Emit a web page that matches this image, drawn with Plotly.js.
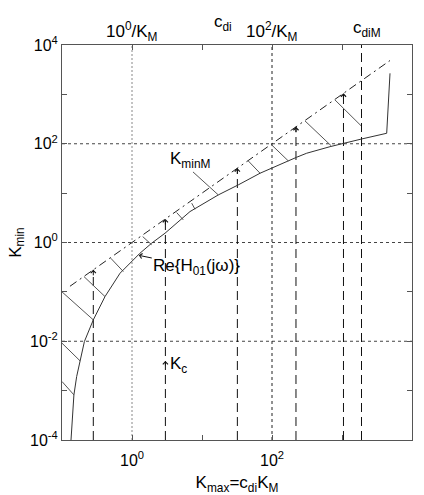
<!DOCTYPE html>
<html>
<head>
<meta charset="utf-8">
<script src="https://cdn.plot.ly/plotly-3.0.1.min.js"></script>
<style>
  html, body { margin: 0; padding: 0; background: #fff; }
  #chart { width: 424px; height: 495px; }
</style>
</head>
<body>
<div id="chart"></div>
<script>
// Re{H01(jw)} boundary curve
const reX = [0.1345, 0.148, 0.162, 0.181, 0.209, 0.28, 0.411, 0.675, 1.3, 1.91, 2.96, 6.74, 17.1, 33, 67.5, 225, 313, 675, 1045, 1910, 4350, 4850];
const reY = [1e-4, 8.2e-4, 1.93e-3, 4.2e-3, 9.9e-3, 0.0271, 0.0802, 0.239, 0.607, 0.968, 1.54, 4.23, 9.2, 14.7, 25.3, 53.3, 64.3, 87.3, 102, 125, 163, 2670];

// K_minM limit line (Kmin = Kmax)
const kminMX = [0.13, 4850];
const kminMY = [0.13, 4850];

// hatching between the two boundaries: start and end of each stroke
const hatchX0 = [0.1, 0.1, 0.1, 0.206, 0.497, 1.42, 4.35, 7.13, 7.43, 45.8, 99, 296, 794];
const hatchY0 = [0.1, 0.00914, 0.00153, 0.204, 0.481, 1.32, 4.03, 6.25, 26.9, 44.9, 94.6, 290, 771];
const hatchX1 = [0.28, 0.181, 0.148, 0.411, 0.752, 1.91, 5.4, 7.94, 17.1, 67.5, 171, 697, 1868];
const hatchY1 = [0.0271, 0.00401, 8.2e-4, 0.0804, 0.258, 0.9, 2.87, 4.72, 9.2, 25.3, 44.9, 91.6, 232];

// c_di values (vertical arrows up to K_minM) and the upper limit c_diM
const cdi = [0.28, 3, 32, 220, 1050];
const cdiM = 1900;
const kc = { x: 3, y: 0.004 };
const reLabelPoint = { x: 1.25, y: 0.55 };

const yMin = 1e-4, yMax = 1e4;
const decadesX = [0.1, 1, 10, 100, 1000, 10000];
const labelsX = ['', '10<sup>0</sup>', '', '10<sup>2</sup>', '', '10<sup>4</sup>'];
const decadesY = [1e-4, 1e-3, 1e-2, 1e-1, 1, 10, 100, 1000, 10000];
const labelsY = ['10<sup>-4</sup>', '', '10<sup>-2</sup>', '', '10<sup>0</sup>', '', '10<sup>2</sup>', '', '10<sup>4</sup>'];

const FONT = 'Liberation Sans, Arial, sans-serif';
const traces = [];

// reference lines at the labelled decades
[0.01, 1, 100].forEach(v => traces.push({
  x: [0.1, 10000], y: [v, v], mode: 'lines', hoverinfo: 'skip',
  line: { color: '#444', width: 1, dash: '3px,3px' }
}));
traces.push({ x: [1, 1], y: [yMin, yMax], mode: 'lines', hoverinfo: 'skip',
  line: { color: '#888', width: 1, dash: '2px,2px' } });
traces.push({ x: [100, 100], y: [yMin, yMax], mode: 'lines', hoverinfo: 'skip',
  line: { color: '#222', width: 1, dash: '3px,3px' } });

// vertical c_di lines
const vx = [], vy = [];
cdi.forEach(c => { vx.push(c, c, null); vy.push(yMin, c, null); });
traces.push({ x: vx, y: vy, mode: 'lines', connectgaps: false, hoverinfo: 'skip',
  line: { color: '#111', width: 1, dash: '9px,5px' } });
traces.push({ x: [cdiM, cdiM], y: [yMin, yMax], mode: 'lines', hoverinfo: 'skip',
  line: { color: '#111', width: 1, dash: '9px,5px' } });

// hatching
const hx = [], hy = [];
hatchX0.forEach((x0, i) => { hx.push(x0, hatchX1[i], null); hy.push(hatchY0[i], hatchY1[i], null); });
traces.push({ x: hx, y: hy, mode: 'lines', connectgaps: false, hoverinfo: 'skip',
  line: { color: '#555', width: 1 } });

// K_minM line
traces.push({ x: kminMX, y: kminMY, mode: 'lines', hoverinfo: 'skip',
  line: { color: '#222', width: 1, dash: '8px,4px,2px,4px' } });

// Re{H01(jw)} curve
traces.push({ x: reX, y: reY, mode: 'lines', hoverinfo: 'skip',
  line: { color: '#333', width: 1 } });

const lg = Math.log10;
const labelFont = { family: FONT, size: 17, color: '#000' };
const annotations = [];
cdi.forEach(c => annotations.push({
  x: lg(c), y: lg(c), xref: 'x', yref: 'y', text: '', showarrow: true,
  ax: 0, ay: 7, arrowhead: 4, arrowsize: 1, arrowwidth: 1, arrowcolor: '#111'
}));
annotations.push({
  x: lg(kc.x), y: lg(kc.y), xref: 'x', yref: 'y', text: '', showarrow: true,
  ax: 0, ay: 6, arrowhead: 4, arrowsize: 1, arrowwidth: 1, arrowcolor: '#111'
});
annotations.push({
  x: lg(kc.x), y: lg(kc.y), xref: 'x', yref: 'y', text: 'K<sub>c</sub>', showarrow: false,
  xanchor: 'left', yanchor: 'middle', xshift: 3, yshift: -4, font: labelFont
});
annotations.push({
  x: lg(reLabelPoint.x), y: lg(reLabelPoint.y), xref: 'x', yref: 'y',
  text: 'Re{H<sub>01</sub>(jω)}', showarrow: true, ax: 58, ay: 12,
  arrowhead: 4, arrowsize: 1, arrowwidth: 1, arrowcolor: '#111', font: labelFont
});
annotations.push({
  x: 0.83, y: 1.67, xref: 'x', yref: 'y', text: 'K<sub>minM</sub>', showarrow: false,
  font: labelFont
});
// top labels
annotations.push({ x: 0, y: 1, xref: 'x', yref: 'paper', yanchor: 'bottom', yshift: -1,
  text: '10<sup>0</sup>/K<sub>M</sub>', showarrow: false, font: labelFont });
annotations.push({ x: 2, y: 1, xref: 'x', yref: 'paper', yanchor: 'bottom', yshift: -1,
  text: '10<sup>2</sup>/K<sub>M</sub>', showarrow: false, font: labelFont });
annotations.push({ x: 1.3, y: 1, xref: 'x', yref: 'paper', yanchor: 'bottom', yshift: 9,
  text: 'c<sub>di</sub>', showarrow: false, font: labelFont });
annotations.push({ x: lg(cdiM), y: 1, xref: 'x', yref: 'paper', yanchor: 'bottom', yshift: 3, xshift: 5,
  text: 'c<sub>diM</sub>', showarrow: false, font: labelFont });

const axisCommon = {
  type: 'log', ticks: 'inside', ticklen: 5, tickcolor: '#555', tickwidth: 1,
  showline: true, linecolor: '#555', linewidth: 1, mirror: 'ticks',
  showgrid: false, zeroline: false, tickmode: 'array',
  tickfont: { family: FONT, size: 16, color: '#000' }
};

const layout = {
  width: 424, height: 495,
  margin: { l: 62, r: 12, t: 45, b: 55 },
  paper_bgcolor: '#fff', plot_bgcolor: '#fff',
  showlegend: false,
  xaxis: Object.assign({}, axisCommon, {
    range: [-1, 4], tickvals: decadesX, ticktext: labelsX, ticklabelstandoff: 6,
    title: { text: 'K<sub>max</sub>=c<sub>di</sub>K<sub>M</sub>', standoff: 13, font: labelFont }
  }),
  yaxis: Object.assign({}, axisCommon, {
    range: [-4, 4], tickvals: decadesY, ticktext: labelsY,
    title: { text: 'K<sub>min</sub>', standoff: 4, font: labelFont }
  }),
  annotations: annotations
};

Plotly.newPlot('chart', traces, layout, { staticPlot: true, displayModeBar: false });
</script>
</body>
</html>
